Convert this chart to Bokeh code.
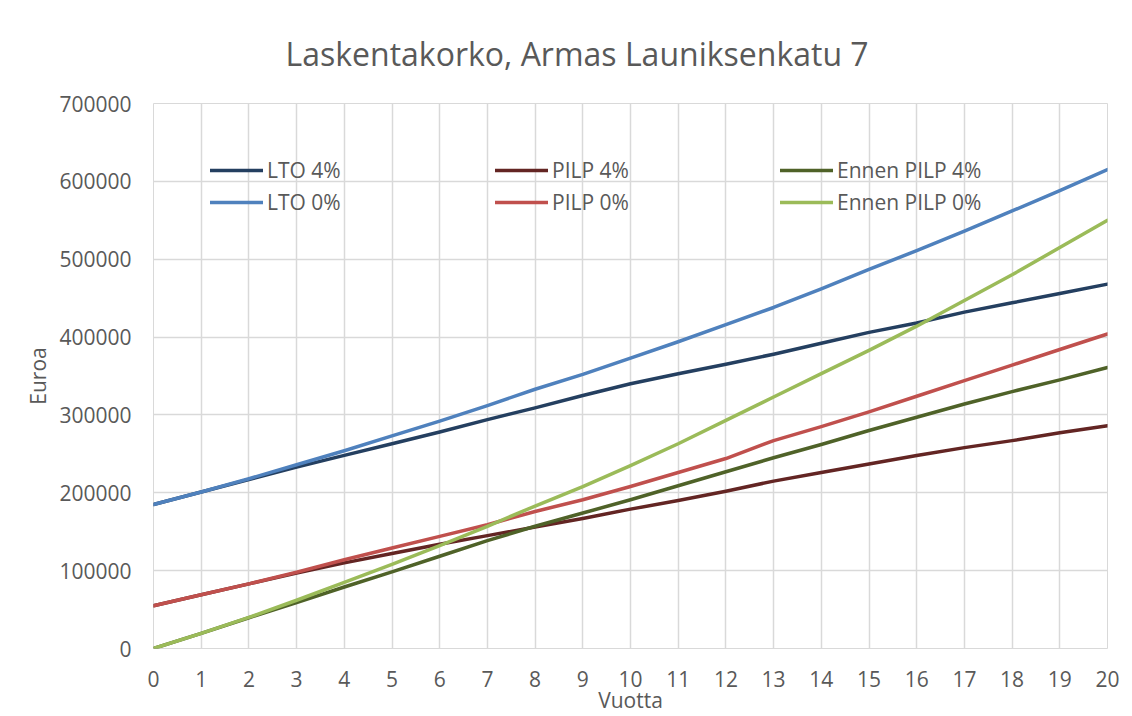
from bokeh.plotting import figure
from bokeh.models import (FixedTicker, Legend, LegendItem, Range1d)
from bokeh.embed import file_html
from bokeh.resources import INLINE

# ---- data ----
title_text = "Laskentakorko, Armas Launiksenkatu 7"
x_label = "Vuotta"
y_label = "Euroa"
years = list(range(21))
y_ticks = [0, 100000, 200000, 300000, 400000, 500000, 600000, 700000]
y_tick_labels = ["0", "100000", "200000", "300000", "400000", "500000", "600000", "700000"]

lto_4 = [185000, 201000, 217000, 233000, 248000, 263000, 278000, 294000, 309000, 325000,
         340000, 353000, 365000, 378000, 392000, 406000, 418000, 432000, 444000, 456000, 468000]
lto_0 = [185000, 201000, 218000, 236000, 254000, 273000, 292000, 312000, 333000, 352000,
         373000, 394000, 416000, 438000, 462000, 487000, 511000, 536000, 562000, 588000, 615000]
pilp_4 = [55000, 69000, 83000, 97000, 110000, 122000, 134000, 145000, 156000, 167000,
          179000, 190000, 202000, 215000, 226000, 237000, 248000, 258000, 267000, 277000, 286000]
pilp_0 = [55000, 69000, 83000, 98000, 114000, 129000, 144000, 159000, 176000, 191000,
          208000, 226000, 244000, 267000, 285000, 304000, 324000, 344000, 364000, 384000, 404000]
ennen_4 = [0, 19500, 39500, 59000, 79000, 98500, 118500, 138500, 157000, 174000,
           191000, 209000, 227000, 245000, 262000, 280000, 297000, 314000, 330000, 345000, 361000]
ennen_0 = [0, 19500, 40000, 62000, 85000, 108000, 132000, 157000, 183000, 208000,
           235000, 263000, 293000, 323000, 353000, 383000, 414000, 447000, 480000, 515000, 550000]

series = [
    ("LTO 4%", lto_4, "#243F60"),
    ("LTO 0%", lto_0, "#4F81BD"),
    ("PILP 4%", pilp_4, "#632523"),
    ("PILP 0%", pilp_0, "#C0504D"),
    ("Ennen PILP 4%", ennen_4, "#4F6228"),
    ("Ennen PILP 0%", ennen_0, "#9BBB59"),
]

FONT = "Open Sans"
TXT = "#595959"
GRID = "#d9d9d9"

p = figure(width=1132, height=716, output_backend="svg", toolbar_location=None,
           x_range=Range1d(0, 20), y_range=Range1d(0, 700000),
           min_border_left=153, min_border_right=25, min_border_top=103, min_border_bottom=68)
p.outline_line_color = GRID
p.background_fill_color = "white"
p.border_fill_color = "white"

p.title.text = title_text
p.title.text_font = FONT
p.title.text_font_size = "32px"
p.title.text_font_style = "normal"
p.title.text_color = TXT
p.title.align = "left"
p.title.offset = 132
p.title.standoff = 58

p.xaxis.ticker = FixedTicker(ticks=years)
p.yaxis.ticker = FixedTicker(ticks=y_ticks)
p.yaxis.major_label_overrides = {t: l for t, l in zip(y_ticks, y_tick_labels)}
for ax in (p.xaxis, p.yaxis):
    ax.axis_line_color = None
    ax.major_tick_line_color = None
    ax.minor_tick_line_color = None
    ax.major_label_text_font = FONT
    ax.major_label_text_font_size = "21px"
    ax.major_label_text_color = TXT
    ax.axis_label_text_font = FONT
    ax.axis_label_text_font_size = "21px"
    ax.axis_label_text_color = TXT
    ax.axis_label_text_font_style = "normal"
p.xaxis.major_label_standoff = 16
p.yaxis.major_label_standoff = 16
p.xaxis.axis_label = x_label
p.yaxis.axis_label = y_label
p.xaxis.axis_label_standoff = -4
p.xaxis.axis_label_text_line_height = 0.8
p.yaxis.axis_label_standoff = 4

p.xgrid.grid_line_color = GRID
p.ygrid.grid_line_color = GRID
p.xgrid.grid_line_width = 1.5
p.ygrid.grid_line_width = 1.5

renderers = {}
for name, vals, color in series:
    r = p.line(years, vals, line_color=color, line_width=3.5,
               line_join="round", line_cap="round")
    renderers[name] = r

groups = [("LTO 4%", "LTO 0%"), ("PILP 4%", "PILP 0%"), ("Ennen PILP 4%", "Ennen PILP 0%")]
xpos = [57, 342, 627]
for g, xp in zip(groups, xpos):
    leg = Legend(items=[LegendItem(label=n, renderers=[renderers[n]]) for n in g],
                 location=(xp, 432), orientation="vertical",
                 glyph_width=53, glyph_height=20, label_standoff=4, spacing=4,
                 padding=0, margin=0, border_line_color=None,
                 background_fill_alpha=0,
                 label_text_font=FONT, label_text_font_size="21px",
                 label_text_color=TXT)
    p.add_layout(leg, "center")

open("out.html", "w").write(file_html(p, INLINE))
